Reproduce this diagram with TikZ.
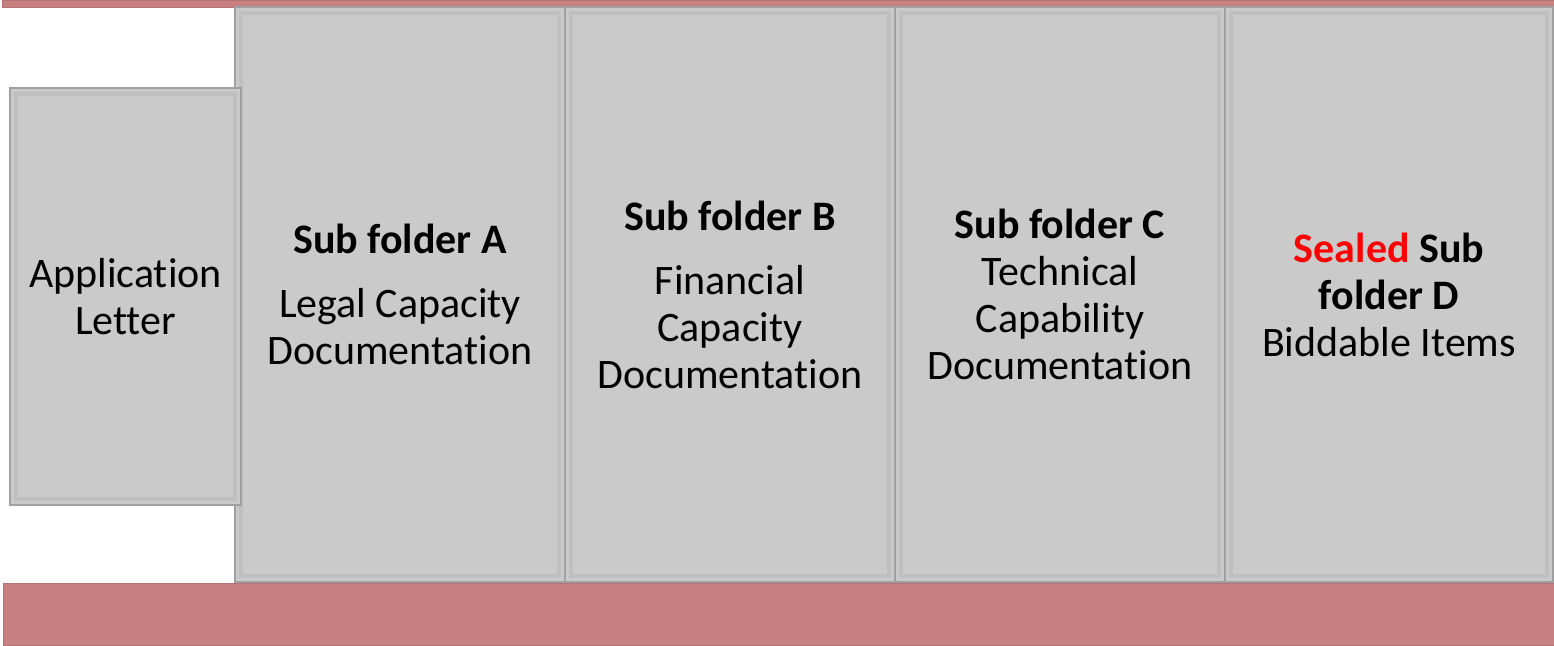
\documentclass[tikz,border=0pt]{standalone}
\usepackage{fontspec}
\setmainfont{Carlito}[Ligatures=NoCommon]
\definecolor{barcol}{HTML}{C77F80}
\definecolor{boxfill}{HTML}{CACACA}
\definecolor{boxedge}{HTML}{A0A0A0}
\definecolor{bevel}{HTML}{BFBFBF}
\definecolor{sealred}{HTML}{FF0000}
\begin{document}
\begin{tikzpicture}[x=1pt,y=-1pt,
  bar/.style={fill=barcol, draw=barcol!90!black, line width=0.6pt, inner sep=0pt, anchor=north west},
  folder/.style={draw=boxedge, fill=boxfill, line width=1.8pt, inner sep=0pt,
    align=center, font=\fontsize{42}{47}\selectfont,
    path picture={\draw[bevel, line width=4pt]
      ([shift={(6pt,-6pt)}]path picture bounding box.north west) rectangle
      ([shift={(-6pt,6pt)}]path picture bounding box.south east);}},
  big/.style={folder, minimum width=330pt, minimum height=575pt},
]
\useasboundingbox (0,0) rectangle (1554,645);
\node[bar, minimum width=1552pt, minimum height=7pt] (topbar) at (2,0) {};
\node[bar, minimum width=1551pt, minimum height=62pt] (bottombar) at (3,583) {};
\node[big] (A) at (400,294.5) {\textbf{Sub folder A}\\[17pt]Legal Capacity\\Documentation};
\node[big] (B) at (730,294.5) {\textbf{Sub folder B}\\[17pt]Financial\\Capacity\\Documentation};
\node[big] (C) at (1060,294.5) {\textbf{Sub folder C}\\Technical\\Capability\\Documentation};
\node[big, minimum width=328pt] (D) at (1389,294.5) {\textbf{\textcolor{sealred}{Sealed} Sub}\\\textbf{folder D}\\Biddable Items};
\node[folder, minimum width=231pt, minimum height=417pt] (L) at (125.5,296.5) {Application\\Letter};
\end{tikzpicture}
\end{document}
